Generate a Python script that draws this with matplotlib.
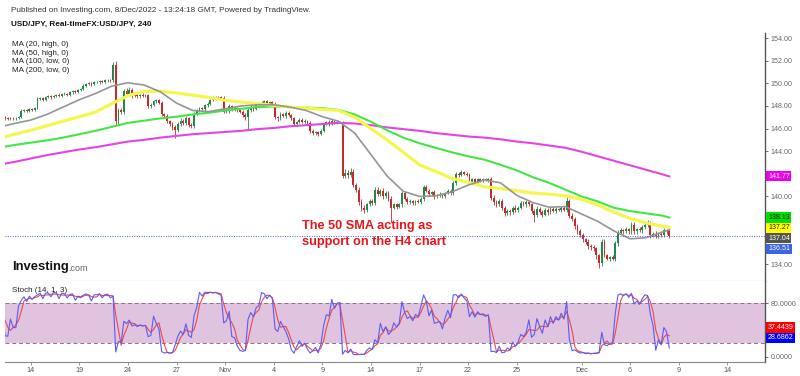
import matplotlib.pyplot as plt
import matplotlib.transforms as mtransforms
import numpy as np
import pandas as pd

plt.rcParams['font.family'] = ['Liberation Sans', 'DejaVu Sans']

# USD/JPY 4h closes, 12 Oct - 8 Dec 2022, six bars per trading day
closes = [
    146.95, 147.0, 146.9, 146.85, 146.95, 146.9,
    146.9, 147.05, 147.55, 147.6, 147.55, 147.7,
    147.65, 147.8, 148.6, 148.7, 148.55, 148.8,
    148.85, 148.75, 148.9, 149.0, 148.9, 149.05,
    149.1, 149.0, 149.2, 149.3, 149.25, 149.4,
    149.5, 149.8, 149.95, 150.0, 149.9, 150.1,
    150.1, 150.2, 150.15, 150.25, 150.3, 150.25,
    151.65, 146.7, 147.6, 147.5, 149.3, 149.1,
    149.4, 148.9, 149.0, 148.85, 149.0, 148.9,
    148.95, 148.0, 148.1, 148.4, 148.5, 148.3,
    147.3, 147.1, 146.7, 146.4, 146.1, 145.9,
    146.4, 146.7, 146.5, 146.9, 146.3, 146.2,
    147.3, 147.6, 147.8, 147.7, 148.1, 148.2,
    148.5, 148.7, 148.8, 148.75, 148.7, 147.5,
    147.6, 148.0, 147.7, 147.8, 147.6, 147.5,
    147.2, 147.0, 147.6, 147.9, 147.7, 148.1,
    148.2, 148.3, 148.4, 148.2, 148.35, 148.2,
    147.0, 146.9, 147.3, 147.1, 147.4, 147.2,
    146.9, 146.4, 146.6, 146.8, 146.6, 146.7,
    146.5, 145.8, 145.6, 145.7, 145.5, 145.8,
    146.4, 146.6, 146.4, 146.7, 146.5, 146.6,
    146.55, 141.8, 142.1, 141.9, 142.2, 141.0,
    140.6, 139.5, 139.0, 138.8, 139.3, 139.6,
    139.4, 140.6, 140.2, 140.5, 140.0, 140.3,
    139.8, 139.0, 139.3, 139.1, 139.3, 140.3,
    139.8, 139.5, 139.6, 139.4, 139.6, 139.5,
    139.8, 140.8, 140.5, 140.2, 140.4, 140.0,
    140.1, 140.2, 140.0, 140.3, 140.5, 140.3,
    141.2, 142.0, 141.9, 142.15, 142.0, 141.9,
    141.3, 141.5, 141.3, 141.5, 141.4, 141.5,
    141.45, 141.5, 139.9, 139.5, 139.3, 139.6,
    139.0, 138.5, 138.7, 138.6, 139.0, 138.8,
    139.0, 139.4, 139.3, 139.5, 139.3, 138.7,
    138.4, 138.9, 138.6, 138.4, 138.8, 138.6,
    138.9, 138.7, 138.9, 138.8, 139.0, 138.8,
    139.6, 138.3, 138.0, 137.4, 136.9, 136.6,
    136.2, 136.0, 135.6, 135.5, 135.4, 134.8,
    134.1, 136.0, 134.8, 134.5, 134.6, 134.5,
    135.9, 136.8, 137.0, 136.9, 137.1, 136.9,
    137.5, 136.9, 137.1, 137.0, 137.3, 137.5,
    137.6, 136.6, 136.7, 136.5, 136.7, 136.6,
    137.0, 136.9, 136.51,
]
first_open = 146.9

up_wick = [
    .10, .08, .12, .10, .08, .10,  .08, .10, .15, .10, .12, .10,
    .10, .12, .15, .10, .12, .10,  .10, .12, .08, .10, .12, .08,
    .10, .08, .12, .10, .08, .10,  .12, .10, .08, .12, .10, .10,
    .10, .08, .12, .10, .08, .10,  .25, .30, .20, .25, .20, .30,
    .30, .15, .12, .15, .10, .12,  .12, .15, .20, .12, .15, .12,
    .15, .12, .15, .10, .15, .20,  .20, .25, .15, .20, .15, .20,
    .15, .12, .10, .15, .10, .12,  .12, .15, .10, .12, .15, .20,
    .20, .15, .12, .15, .12, .10,  .12, .15, .20, .15, .12, .10,
    .12, .10, .15, .12, .10, .12,  .15, .12, .15, .10, .12, .15,
    .12, .15, .10, .12, .10, .12,  .10, .15, .12, .10, .12, .15,
    .12, .10, .15, .12, .10, .12,  .10, .15, .30, .20, .30, .20,
    .15, .20, .25, .20, .15, .20,  .15, .20, .25, .15, .20, .15,
    .15, .20, .15, .12, .15, .20,  .15, .12, .15, .10, .12, .15,
    .15, .25, .20, .15, .12, .15,  .12, .15, .12, .10, .15, .12,
    .15, .20, .15, .15, .12, .15,  .15, .12, .15, .10, .12, .10,
    .12, .15, .20, .25, .15, .20,  .20, .15, .15, .20, .15, .20,
    .15, .20, .15, .20, .15, .15,  .20, .25, .15, .20, .15, .20,
    .15, .12, .15, .10, .15, .12,  .40, .20, .25, .20, .15, .20,
    .20, .15, .20, .15, .20, .15,  .15, .25, .20, .15, .15, .20,
    .20, .25, .20, .15, .20, .15,  .20, .25, .15, .20, .15, .20,
    .30, .20, .15, .20, .15, .20,  .20, .15, .20,
]
dn_wick = [
    .10, .08, .10, .12, .08, .10,  .10, .08, .10, .12, .10, .08,
    .10, .12, .08, .10, .12, .10,  .12, .10, .08, .12, .10, .08,
    .10, .12, .08, .10, .12, .10,  .10, .08, .12, .10, .12, .08,
    .10, .12, .08, .10, .12, .10,  .10, .40, .30, .20, .20, .15,
    .15, .20, .15, .12, .15, .12,  .15, .20, .15, .12, .10, .15,
    .20, .15, .20, .15, .20, .70,  .20, .15, .20, .15, .20, .15,
    .15, .12, .15, .10, .12, .15,  .12, .10, .15, .12, .10, .15,
    .15, .20, .15, .12, .15, .12,  .15, .20, 1.10, .15, .12, .10,
    .10, .12, .10, .15, .10, .12,  .15, .20, .15, .12, .15, .12,
    .15, .12, .15, .10, .12, .15,  .12, .15, .20, .15, .12, .10,
    .12, .10, .15, .12, .10, .12,  .10, .20, .20, .25, .15, .20,
    .20, .25, .30, .30, .20, .15,  .20, .15, .20, .15, .20, .15,
    .20, 1.30, .15, .20, .15, .20,  .15, .20, .15, .12, .15, .12,
    .15, .20, .15, .12, .15, .20,  .12, .15, .12, .15, .12, .15,
    .15, .20, .15, .12, .15, .12,  .20, .15, .12, .15, .12, .10,
    .12, .15, .20, .25, .20, .15,  .20, .25, .15, .20, .15, .20,
    .15, .12, .15, .20, .15, .20,  .70, .20, .15, .20, .15, .20,
    .15, .12, .15, .12, .15, .12,  .20, .25, .20, .30, .25, .20,
    .25, .20, .25, .20, .25, .30,  .40, .25, .20, .15, .20, .15,
    .20, .25, .15, .20, .15, .20,  .20, .25, .20, .15, .20, .15,
    .20, .25, .20, .15, .20, .15,  .15, .20, .15,
]

# moving averages read at the start of each trading day, last value at the last bar
ma20 = [146.1, 146.45, 146.75, 147.25, 147.9, 148.55, 149.1, 149.75, 150.05, 149.85,
        149.25, 148.25, 147.6, 147.5, 147.75, 148.0, 148.1, 148.1, 147.9, 147.6,
        147.05, 146.65, 145.6, 143.7, 141.8, 140.45, 140.0, 140.05, 140.4, 141.0,
        141.45, 141.2, 140.1, 139.45, 139.05, 139.1, 138.45, 137.8, 136.95, 136.25,
        136.35, 136.85, 137.04]
ma50 = [145.1, 145.5, 145.85, 146.25, 146.65, 147.05, 147.45, 148.2, 148.9, 149.3,
        149.3, 149.15, 148.95, 148.75, 148.5, 148.35, 148.2, 148.05, 147.9, 147.8,
        147.7, 147.6, 147.0, 146.0, 145.0, 143.9, 142.8, 142.2, 141.6, 141.25,
        140.85, 140.7, 140.5, 140.3, 140.2, 140.05, 139.75, 139.25, 138.6, 138.05,
        137.65, 137.35, 137.27]
ma100 = [144.3, 144.55, 144.75, 144.95, 145.2, 145.5, 145.8, 146.15, 146.5, 146.7,
         146.9, 147.05, 147.25, 147.4, 147.6, 147.75, 147.9, 147.95, 147.9, 147.85,
         147.8, 147.65, 147.25, 146.6, 145.85, 145.2, 144.7, 144.3, 143.9, 143.55,
         143.25, 142.8, 142.3, 141.7, 141.2, 140.6, 140.0, 139.55, 139.0, 138.7,
         138.5, 138.3, 138.13]
ma200 = [142.8, 143.05, 143.35, 143.65, 143.9, 144.15, 144.35, 144.6, 144.85, 145.0,
         145.2, 145.35, 145.5, 145.6, 145.7, 145.8, 145.95, 146.05, 146.2, 146.3,
         146.4, 146.5, 146.45, 146.3, 146.1, 145.95, 145.8, 145.6, 145.45, 145.3,
         145.2, 145.05, 144.85, 144.7, 144.5, 144.3, 143.95, 143.55, 143.15, 142.75,
         142.35, 141.95, 141.77]

stoch_d_last = 37.4439
stoch_k_last = 28.6862

day_ticks = [2, 5, 8, 11, 14, 17, 20, 23, 26, 29, 32, 36, 39, 42, 45]
day_labels = ['14', '19', '24', '27', 'Nov', '4', '9', '14', '17', '22', '25',
              'Dec', '6', '9', '14']

c = np.array(closes)
o = np.r_[first_open, c[:-1]]
hi = np.maximum(o, c) + np.array(up_wick)
lo = np.minimum(o, c) - np.array(dn_wick)
n = len(c)
x = np.arange(n) + 0.5
ma_x = [6 * d for d in range(42)] + [x[-1]]

# stochastic 14,1,3
k = np.zeros(n)
for i in range(n):
    hh = hi[max(0, i - 13):i + 1].max()
    ll = lo[max(0, i - 13):i + 1].min()
    k[i] = 100 * (c[i] - ll) / (hh - ll)
d = pd.Series(k).rolling(3, min_periods=1).mean().values

W, H = 800, 376
fig = plt.figure(figsize=(8, 3.76), dpi=100)
ax = fig.add_axes([5 / W, 1 - 281 / H, 760 / W, (281 - 33) / H])
ax2 = fig.add_axes([5 / W, 1 - 362 / H, 760 / W, (362 - 281) / H])
for a in (ax, ax2):
    a.set_xlim(2.48, 283.96)
    for s in ('top', 'left'):
        a.spines[s].set_visible(False)
    a.spines['right'].set_color('#555555')
    a.spines['right'].set_linewidth(1)
    a.yaxis.tick_right()
    a.tick_params(axis='y', length=2, width=0.6, color='#555555', labelsize=5.1,
                  labelcolor='#666666', pad=2)
ax.spines['bottom'].set_color('#b0b0b0')
ax2.spines['bottom'].set_color('#888888')
ax.set_xticks([])
ax.set_ylim(132.52, 154.45)
ax2.set_ylim(-7.9, 113.4)

# candles
up = c >= o
col = np.where(up, '#1d8a4a', '#c42b2b')
ax.vlines(x, lo, hi, colors=col, lw=0.6)
body = np.where(np.abs(c - o) < 0.04, 0.04, c - o)
ax.bar(x, body, bottom=o, width=0.7, color=col, linewidth=0)

ax.plot(ma_x, ma200, color='#e444e4', lw=1.5)
ax.plot(ma_x, ma100, color='#44e644', lw=1.5)
ax.plot(ma_x, ma50, color='#f6f650', lw=2.3)
ax.plot(ma_x, ma20, color='#959595', lw=1.2)
ax.axhline(c[-1], color='#3d5fd0', lw=0.7, ls=(0, (1, 1.5)))


def stack(vals, gap, down=True):
    order = sorted(range(len(vals)), key=lambda i: -vals[i] if down else vals[i])
    pos = [0] * len(vals)
    last = None
    for i in order:
        v = vals[i]
        if last is not None:
            v = min(v, last - gap) if down else max(v, last + gap)
        pos[i] = v
        last = v
    return pos


def boxes(a, vals, fmt, colors, gap, down):
    tr = mtransforms.blended_transform_factory(a.transAxes, a.transData)
    pos = stack(vals, gap, down)
    for v, p, (bg, fg) in zip(vals, pos, colors):
        a.text(1.004, p, fmt % v, transform=tr, ha='left', va='center', fontsize=5.1,
               color=fg, clip_on=False,
               bbox=dict(boxstyle='square,pad=0.22', fc=bg, ec='none'))
    return pos


pvals = [ma200[-1], ma100[-1], ma50[-1], ma20[-1], c[-1]]
pcols = [('#ee00ee', 'white'), ('#00e000', '#222222'), ('#ffff00', '#222222'),
         ('#555555', 'white'), ('#3c64dc', 'white')]
ppos = boxes(ax, pvals, '%.2f', pcols, 0.92, True)
yt = list(range(134, 155, 2))
ax.set_yticks(yt)
ax.set_yticklabels(['' if any(abs(t - p) < 0.75 for p in ppos) else '%.2f' % t for t in yt])

# stochastic panel
ax2.axhspan(20, 80, color='#dfc3df', lw=0)
for lvl in (20, 80):
    ax2.axhline(lvl, color='#8d6f8d', lw=0.7, ls=(0, (4, 3)))
ax2.plot(x, d, color='#f04848', lw=0.8)
ax2.plot(x, k, color='#5c5cf2', lw=0.8)
spos = boxes(ax2, [stoch_d_last, stoch_k_last], '%.4f',
             [('#ff0000', 'white'), ('#0000ff', 'white')], 15, False)
st = [0, 40, 80]
ax2.set_yticks(st)
ax2.set_yticklabels(['' if any(abs(t - p) < 10 for p in spos) else '%.4f' % t for t in st])
ax2.set_xticks([6 * t for t in day_ticks])
ax2.set_xticklabels(day_labels)
ax2.tick_params(axis='x', length=2, width=0.6, color='#888888', labelsize=5.2,
                labelcolor='#555555', pad=1.5)

# texts
def ft(px, py, s, **kw):
    fig.text(px / W, 1 - py / H, s, va='center', ha='left', **kw)


ft(11, 11, 'Published on Investing.com, 8/Dec/2022 - 13:24:18 GMT, Powered by TradingView.',
   fontsize=5.9, color='#333333')
ft(11, 24.5, 'USD/JPY, Real-timeFX:USD/JPY, 240', fontsize=5.9, color='#111111',
   fontweight='bold')
for j, s in enumerate(['MA (20, high, 0)', 'MA (50, high, 0)', 'MA (100, low, 0)',
                       'MA (200, low, 0)']):
    ft(11.5, 44.5 + 8.6 * j, s, fontsize=5.8, color='#222222')
ft(11.5, 291, 'Stoch (14, 1, 3)', fontsize=5.8, color='#222222')
ft(12, 267, 'Investing', fontsize=9.4, fontweight='bold', color='#111111')
ft(68.5, 268.5, '.com', fontsize=6.5, color='#666666')
ft(302, 226, 'The 50 SMA acting as', fontsize=9.2, fontweight='bold', color='#e8161b')
ft(302, 241.7, 'support on the H4 chart', fontsize=9.2, fontweight='bold', color='#e8161b')

fig.savefig('out.png', dpi=100)
